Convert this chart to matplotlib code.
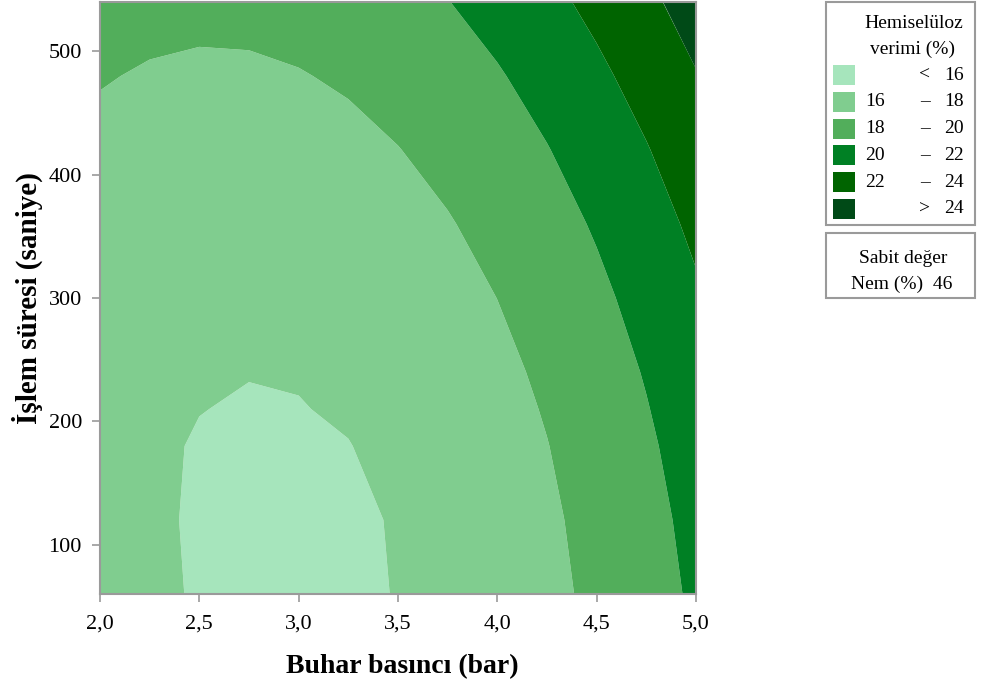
import numpy as np
import matplotlib
matplotlib.use("Agg")
import matplotlib.pyplot as plt
from matplotlib.patches import Rectangle

plt.rcParams["font.family"] = ["Liberation Serif", "DejaVu Serif"]

# Grid: steam pressure (bar), treatment time (s)
pressure = [2.0, 2.25, 2.5, 2.75, 3.0, 3.25, 3.5, 3.75, 4.0, 4.25, 4.5, 4.75, 5.0]
duration = [60, 120, 180, 210, 240, 300, 360, 420, 480, 540]

# Hemicellulose yield (%) at each grid point, one row per duration
yield_grid = [
    [16.66, 16.23, 15.90, 15.77, 15.74, 15.85, 16.03, 16.45, 16.95, 17.58, 18.35, 19.25, 20.28],
    [16.56, 16.16, 15.89, 15.76, 15.75, 15.88, 16.05, 16.54, 17.06, 17.72, 18.52, 19.44, 20.50],
    [16.57, 16.19, 15.92, 15.84, 15.86, 15.97, 16.31, 16.73, 17.28, 17.96, 18.78, 19.73, 20.81],
    [16.61, 16.25, 16.02, 15.92, 15.96, 16.12, 16.42, 16.86, 17.42, 18.12, 18.95, 19.92, 21.01],
    [16.67, 16.33, 16.11, 16.03, 16.07, 16.26, 16.57, 17.01, 17.59, 18.30, 19.15, 20.12, 21.23],
    [16.88, 16.56, 16.37, 16.31, 16.38, 16.59, 16.93, 17.40, 18.01, 18.75, 19.61, 20.62, 21.75],
    [17.19, 16.89, 16.73, 16.69, 16.79, 17.03, 17.39, 17.89, 18.52, 19.29, 20.18, 21.21, 22.37],
    [17.59, 17.32, 17.18, 17.18, 17.30, 17.56, 17.96, 18.48, 19.14, 19.93, 20.85, 21.90, 23.09],
    [18.10, 17.86, 17.74, 17.76, 17.92, 18.20, 18.62, 19.17, 19.85, 20.67, 21.62, 22.70, 23.91],
    [18.71, 18.49, 18.40, 18.45, 18.63, 18.94, 19.38, 19.96, 20.67, 21.51, 22.48, 23.59, 24.83],
]

levels = [0, 16, 18, 20, 22, 24, 40]
colors = ["#A6E5BC", "#80CD8F", "#52AE5B", "#008024", "#006400", "#004A17"]
legend_left = ["", "16", "18", "20", "22", ""]
legend_mid = ["<", "\u2013", "\u2013", "\u2013", "\u2013", ">"]
legend_right = ["16", "18", "20", "22", "24", "24"]

W, H = 981, 681
fig = plt.figure(figsize=(W / 100, H / 100), dpi=100)


def fx(px):
    return px / W


def fy(py):
    return 1 - py / H


ax = fig.add_axes([fx(100), fy(594), fx(696) - fx(100), fy(2) - fy(594)])

X, Y = np.meshgrid(pressure, duration)
ax.contourf(X, Y, np.array(yield_grid), levels=levels, colors=colors, antialiased=True)

ax.set_xlim(2.0, 5.0)
ax.set_ylim(60, 540)
ax.set_xticks([2.0, 2.5, 3.0, 3.5, 4.0, 4.5, 5.0])
ax.set_xticklabels([f"{v:.1f}".replace(".", ",") for v in ax.get_xticks()])
ax.set_yticks([100, 200, 300, 400, 500])

for s in ax.spines.values():
    s.set_color("#9a9a9a")
    s.set_linewidth(1.5)
ax.tick_params(colors="#9a9a9a", labelcolor="black", labelsize=16, length=6, width=1.2,
               direction="out")
ax.tick_params(axis="x", pad=9)
ax.tick_params(axis="y", pad=7)

ax.set_xlabel("Buhar basıncı (bar)", fontsize=20, fontweight="bold")
ax.set_ylabel("İşlem süresi (saniye)", fontsize=21, fontweight="bold")
ax.xaxis.label.set_verticalalignment("center")
ax.yaxis.label.set_verticalalignment("center")
ax.xaxis.set_label_coords(0.507, (594 - 667) / 592)
ax.yaxis.set_label_coords((27 - 100) / 596, 0.5)

# legend boxes drawn in figure pixels
box_kw = dict(transform=fig.transFigure, fill=False, edgecolor="#9a9a9a", linewidth=1.5)
fig.patches.append(Rectangle((fx(826), fy(225)), fx(975) - fx(826), fy(2) - fy(225), **box_kw))
fig.patches.append(Rectangle((fx(826), fy(298)), fx(975) - fx(826), fy(233) - fy(298), **box_kw))

fig.text(fx(914), fy(24), "Hemiselüloz", fontsize=14, ha="center", va="center")
fig.text(fx(912), fy(49), "verimi (%)", fontsize=14, ha="center", va="center")

for i, c in enumerate(colors):
    yc = 75 + i * 26.8
    fig.patches.append(Rectangle((fx(833), fy(yc + 10)), fx(855) - fx(833), fy(yc - 10) - fy(yc + 10),
                                 transform=fig.transFigure, facecolor=c, edgecolor="none"))
    fig.text(fx(865), fy(yc), legend_left[i], fontsize=14, ha="left", va="center")
    fig.text(fx(925), fy(yc), legend_mid[i], fontsize=14, ha="center", va="center")
    fig.text(fx(964), fy(yc), legend_right[i], fontsize=14, ha="right", va="center")

fig.text(fx(903), fy(258), "Sabit değer", fontsize=14, ha="center", va="center")
fig.text(fx(902), fy(284), "Nem (%)  46", fontsize=14, ha="center", va="center")

fig.savefig("out.png", dpi=100)
